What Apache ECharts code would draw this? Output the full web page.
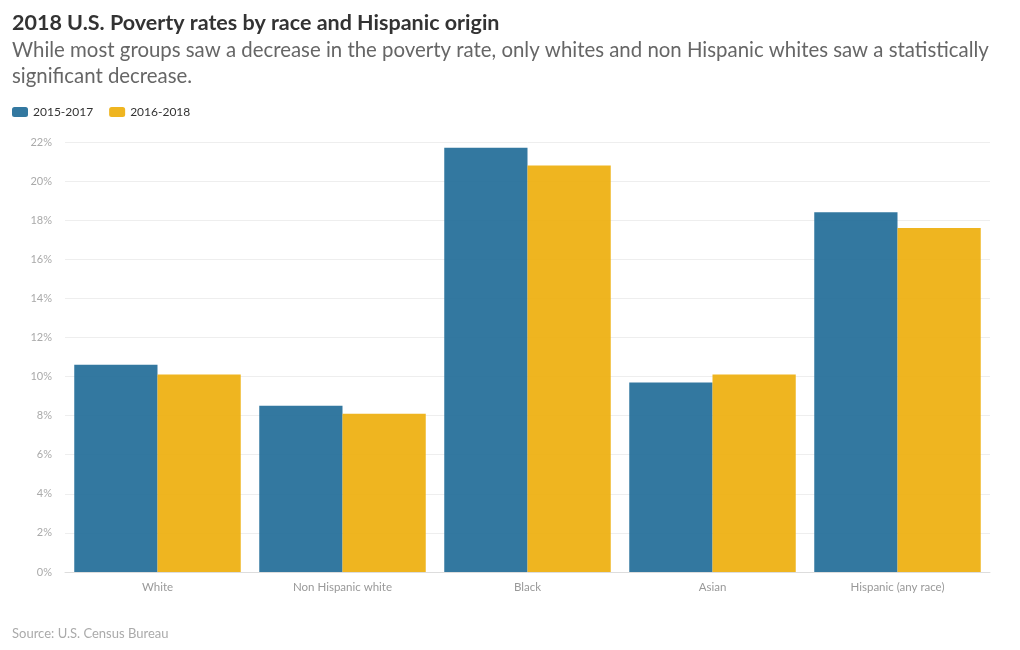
<!DOCTYPE html>
<html><head><meta charset="utf-8">
<script src="https://cdn.jsdelivr.net/npm/echarts@6/dist/echarts.min.js"></script>
<style>html,body{margin:0;padding:0;background:#fff}#c{width:1020px;height:650px}</style>
</head><body><div id="c"></div>
<script>
const categories = ["White", "Non Hispanic white", "Black", "Asian", "Hispanic (any race)"];
const series2015_2017 = [10.6, 8.5, 21.7, 9.7, 18.4];
const series2016_2018 = [10.1, 8.1, 20.8, 10.1, 17.6];
const seriesNames = ["2015-2017", "2016-2018"];
const FONT = "Lato, 'Open Sans', sans-serif";
const chart = echarts.init(document.getElementById('c'));
chart.setOption({
  animation: false,
  textStyle: {fontFamily: FONT},
  title: [
    {text: "2018 U.S. Poverty rates by race and Hispanic origin", left: 12, top: 12, padding: 0,
     textStyle: {fontFamily: FONT, fontSize: 21.5, fontWeight: 'bold', color: '#333'}},
    {text: "While most groups saw a decrease in the poverty rate, only whites and non Hispanic whites saw a statistically\nsignificant decrease.", left: 12, top: 37, padding: 0,
     textStyle: {fontFamily: FONT, fontSize: 20.4, fontWeight: 'normal', color: '#666', lineHeight: 26}},
    {text: "Source: U.S. Census Bureau", left: 12, top: 627, padding: 0,
     textStyle: {fontFamily: FONT, fontSize: 13, fontWeight: 'normal', color: '#aaa'}}
  ],
  legend: {
    left: 7, top: 101, itemWidth: 16, itemHeight: 10, itemGap: 16,
    icon: 'roundRect',
    textStyle: {fontFamily: FONT, fontSize: 12, color: '#333'},
    data: seriesNames
  },
  grid: {left: 65, right: 30, top: 142, bottom: 78},
  xAxis: {
    type: 'category', data: categories,
    axisLine: {lineStyle: {color: '#ddd'}},
    axisTick: {show: false},
    axisLabel: {fontFamily: FONT, fontSize: 11.5, color: '#999', margin: 9}
  },
  yAxis: {
    type: 'value', min: 0, max: 22, interval: 2,
    axisLine: {show: false}, axisTick: {show: false},
    axisLabel: {fontFamily: FONT, fontSize: 11, color: '#aaa', formatter: '{value}%', margin: 13},
    splitLine: {lineStyle: {color: '#eee'}}
  },
  series: [
    {name: seriesNames[0], type: 'bar', data: series2015_2017, barGap: '0%', barCategoryGap: '10%',
     itemStyle: {color: '#1D6996', opacity: 0.9}},
    {name: seriesNames[1], type: 'bar', data: series2016_2018, barGap: '0%', barCategoryGap: '10%',
     itemStyle: {color: '#EDAD08', opacity: 0.9}}
  ]
});
</script></body></html>
